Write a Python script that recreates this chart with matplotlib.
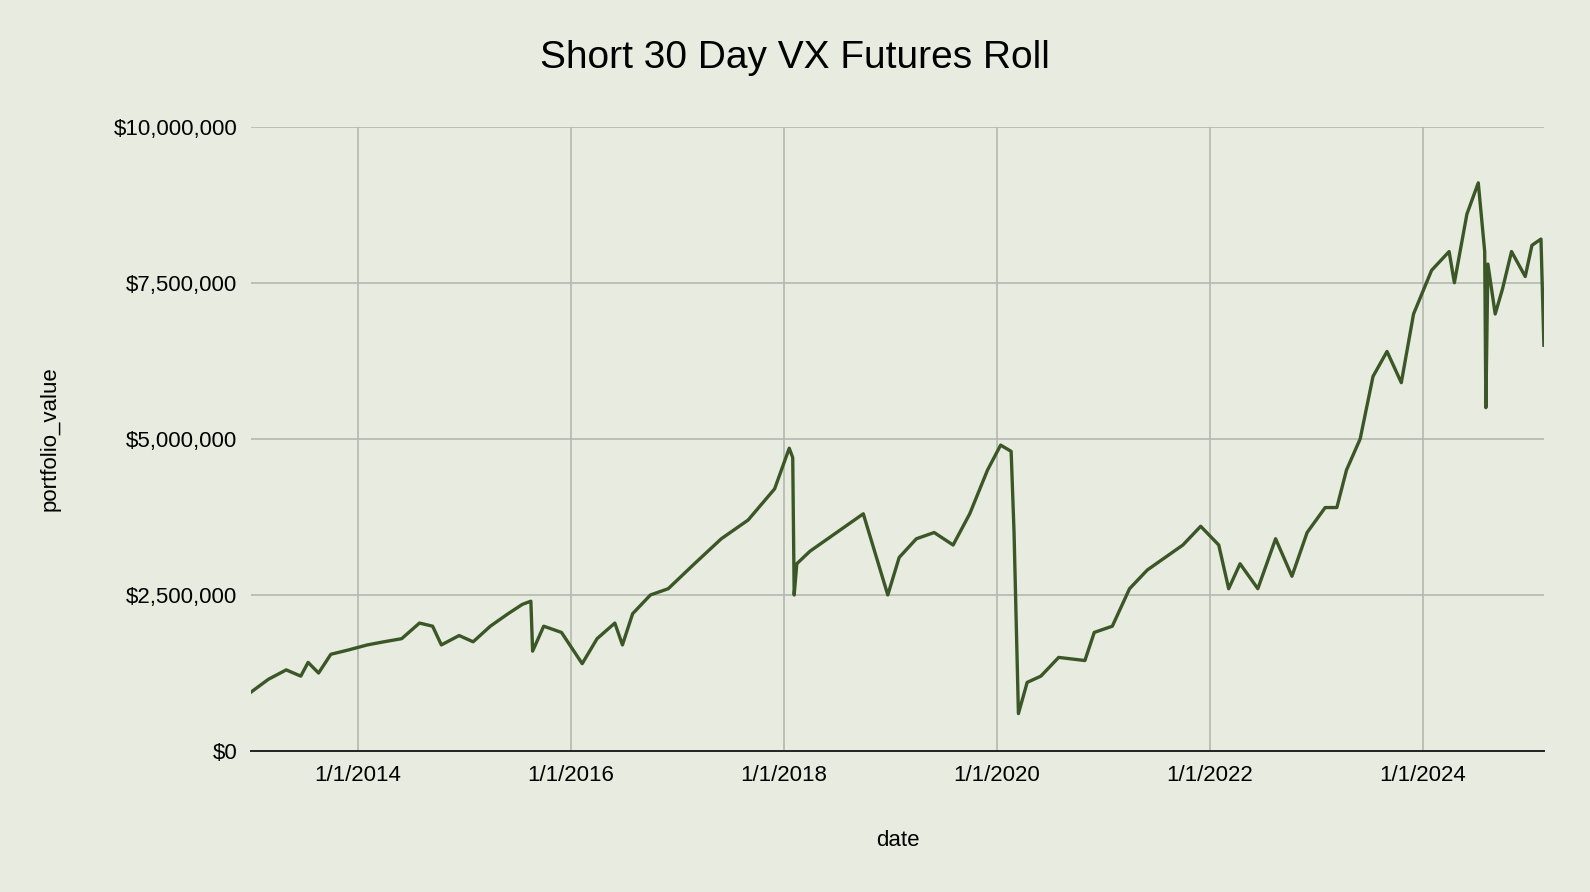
import matplotlib.pyplot as plt
import matplotlib.ticker as mticker
import pandas as pd

plt.rcParams['font.family'] = ['Liberation Sans', 'DejaVu Sans']

# values (millions of dollars)
dates = ["2013-01-02", "2013-03-01", "2013-05-01", "2013-06-20", "2013-07-15", "2013-08-20", "2013-10-01",
         "2013-12-01", "2014-02-03", "2014-04-01", "2014-06-01", "2014-08-01", "2014-09-15", "2014-10-15",
         "2014-12-15", "2015-02-01", "2015-04-01", "2015-06-01", "2015-07-20", "2015-08-18", "2015-08-24",
         "2015-10-01", "2015-12-01", "2016-02-10", "2016-04-01", "2016-06-01", "2016-06-27", "2016-08-01",
         "2016-10-01", "2016-12-01", "2017-03-01", "2017-06-01", "2017-09-01", "2017-12-01", "2018-01-20",
         "2018-02-01", "2018-02-06", "2018-02-15", "2018-04-01", "2018-06-01", "2018-08-01", "2018-10-01",
         "2018-12-24", "2019-02-01", "2019-04-01", "2019-06-01", "2019-08-05", "2019-10-01", "2019-12-01",
         "2020-01-15", "2020-02-20", "2020-03-01", "2020-03-16", "2020-04-15", "2020-06-01", "2020-08-01",
         "2020-10-30", "2020-12-01", "2021-02-01", "2021-04-01", "2021-06-01", "2021-08-01", "2021-10-01",
         "2021-12-01", "2022-02-01", "2022-03-07", "2022-04-15", "2022-06-15", "2022-08-15", "2022-10-10",
         "2022-12-01", "2023-02-01", "2023-03-13", "2023-04-15", "2023-06-01", "2023-07-15", "2023-09-01",
         "2023-10-20", "2023-12-01", "2024-02-01", "2024-04-01", "2024-04-19", "2024-06-01", "2024-07-10",
         "2024-08-01", "2024-08-05", "2024-08-12", "2024-09-06", "2024-10-01", "2024-11-01", "2024-12-18",
         "2025-01-10", "2025-02-10", "2025-02-20"]
values = [0.95, 1.15, 1.3, 1.2, 1.42, 1.25, 1.55,
          1.62, 1.7, 1.75, 1.8, 2.05, 2.0, 1.7,
          1.85, 1.75, 2.0, 2.2, 2.35, 2.4, 1.6,
          2.0, 1.9, 1.4, 1.8, 2.05, 1.7, 2.2,
          2.5, 2.6, 3.0, 3.4, 3.7, 4.2, 4.85,
          4.7, 2.5, 3.0, 3.2, 3.4, 3.6, 3.8,
          2.5, 3.1, 3.4, 3.5, 3.3, 3.8, 4.5,
          4.9, 4.8, 3.5, 0.6, 1.1, 1.2, 1.5,
          1.45, 1.9, 2.0, 2.6, 2.9, 3.1, 3.3,
          3.6, 3.3, 2.6, 3.0, 2.6, 3.4, 2.8,
          3.5, 3.9, 3.9, 4.5, 5.0, 6.0, 6.4,
          5.9, 7.0, 7.7, 8.0, 7.5, 8.6, 9.1,
          8.0, 5.5, 7.8, 7.0, 7.4, 8.0, 7.6,
          8.1, 8.2, 6.5]

x = pd.to_datetime(dates)
y = [v * 1e6 for v in values]

fig, ax = plt.subplots(figsize=(15.9, 8.92), dpi=100)
bg = "#e8ebdf"
fig.patch.set_facecolor(bg)
ax.set_facecolor(bg)
fig.subplots_adjust(left=0.158, right=0.971, top=0.858, bottom=0.158)

ax.plot(x, y, color="#3b5727", linewidth=2.4)

ax.set_xlim(pd.Timestamp("2013-01-01"), pd.Timestamp("2025-02-20"))
ax.set_ylim(0, 10e6)
ax.set_yticks([0, 2.5e6, 5e6, 7.5e6, 10e6])
ax.yaxis.set_major_formatter(mticker.FuncFormatter(lambda v, p: f"${v:,.0f}"))
ticks = [pd.Timestamp(f"{yr}-01-01") for yr in range(2014, 2025, 2)]
ax.set_xticks(ticks)
ax.set_xticklabels([f"1/1/{t.year}" for t in ticks])

ax.grid(True, color="#b5b8b0", linewidth=1.2)
for s in ["top", "right", "left"]:
    ax.spines[s].set_visible(False)
ax.spines["bottom"].set_color("#222222")
ax.spines["bottom"].set_linewidth(1.4)
ax.tick_params(length=0, labelsize=16, pad=10)

fig.suptitle("Short 30 Day VX Futures Roll", fontsize=28, x=0.5, y=0.955)
ax.set_xlabel("date", fontsize=16, labelpad=32)
ax.set_ylabel("portfolio_value", fontsize=16, labelpad=38)

plt.savefig("out.png", facecolor=bg)
